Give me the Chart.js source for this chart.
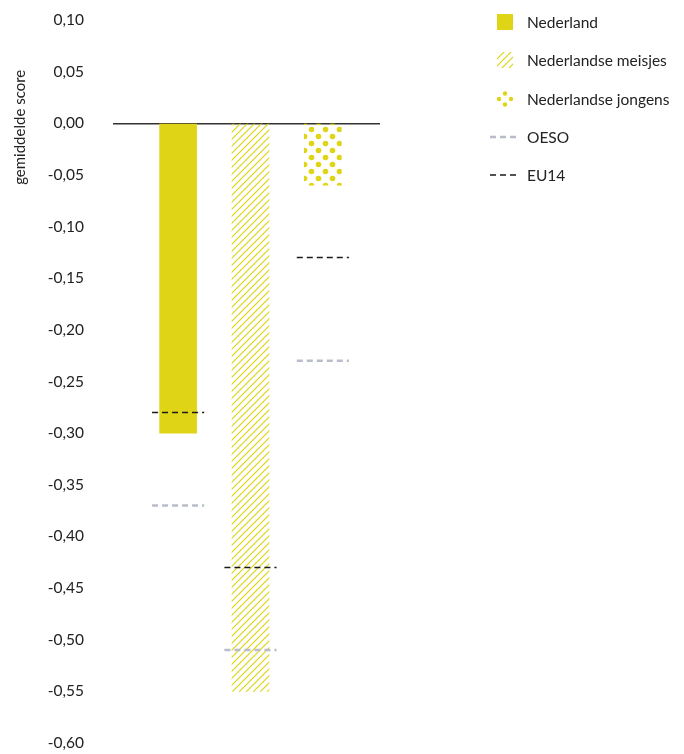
<!DOCTYPE html>
<html>
<head>
<meta charset="utf-8">
<script src="https://cdn.jsdelivr.net/npm/chart.js@4.4.1/dist/chart.umd.min.js"></script>
<style>
    body { margin: 0; background: #ffffff; font-family: Lato, "Noto Sans", sans-serif; }
    #wrap { position: relative; width: 684px; height: 754px; }
    #legend { position: absolute; left: 490px; top: 3px; }
    .item { display: flex; align-items: center; height: 38.3px; font-size: 15.5px; color: #222222; }
    .item canvas { margin-right: 11px; }
</style>
</head>
<body>
<div id="wrap">
    <canvas id="chart" width="684" height="754"></canvas>
    <div id="legend"></div>
</div>
<script>
const categories = ["Nederland", "Nederlandse meisjes", "Nederlandse jongens"];
const scores = [-0.30, -0.55, -0.06];
const oeso = [-0.37, -0.51, -0.23];
const eu14 = [-0.28, -0.43, -0.13];
const yTicks = { min: -0.60, max: 0.10, step: 0.05 };

const YELLOW = "#dfd415";
const GREY = "#b9bccb";
const BLACK = "#1a1a1a";

function stripePattern(color)
{
    const c = document.createElement("canvas");
    c.width = 7; c.height = 7;
    const g = c.getContext("2d");
    g.strokeStyle = color;
    g.lineWidth = 1.2;
    g.beginPath();
    g.moveTo(0, 7); g.lineTo(7, 0);
    g.moveTo(-1, 1); g.lineTo(1, -1);
    g.moveTo(6, 8); g.lineTo(8, 6);
    g.stroke();
    return g.createPattern(c, "repeat");
}

function dotPattern(color)
{
    const c = document.createElement("canvas");
    c.width = 14; c.height = 14;
    const g = c.getContext("2d");
    g.fillStyle = color;
    [[3.5, 3.5], [10.5, 10.5]].forEach(p => {
        g.beginPath();
        g.arc(p[0], p[1], 2.8, 0, Math.PI * 2);
        g.fill();
    });
    return g.createPattern(c, "repeat");
}

const fills = [YELLOW, stripePattern(YELLOW), dotPattern(YELLOW)];

// short horizontal segment over every bar, broken by a null point
const HALF = 0.36;
function segments(values)
{
    const pts = [];
    values.forEach((v, i) => {
        pts.push({ x: i + 1 - HALF, y: v }, { x: i + 1 + HALF, y: v }, { x: i + 1.5, y: null });
    });
    return pts;
}

const axisTitle = {
    id: "axisTitle",
    afterDraw(chart) {
        const y = chart.scales.y;
        const ctx = chart.ctx;
        ctx.save();
        ctx.translate(20, y.getPixelForValue(0) + 4);
        ctx.rotate(-Math.PI / 2);
        ctx.fillStyle = "#222222";
        ctx.font = "15px Lato, 'Noto Sans', sans-serif";
        ctx.textAlign = "center";
        ctx.textBaseline = "middle";
        ctx.fillText("gemiddelde score", 0, 0);
        ctx.restore();
    }
};

const chart = new Chart(document.getElementById("chart"), {
    data: {
        datasets: [
            {
                type: "line",
                label: "EU14",
                data: segments(eu14),
                borderColor: BLACK,
                borderWidth: 1.5,
                borderDash: [6, 4],
                pointRadius: 0,
                spanGaps: false,
                order: 0
            },
            {
                type: "line",
                label: "OESO",
                data: segments(oeso),
                borderColor: GREY,
                borderWidth: 2.5,
                borderDash: [6, 4],
                pointRadius: 0,
                spanGaps: false,
                order: 1
            },
            {
                type: "bar",
                label: "scores",
                data: scores.map((v, i) => ({ x: i + 1, y: v })),
                backgroundColor: fills,
                barThickness: 37,
                order: 2
            }
        ]
    },
    options: {
        responsive: false,
        animation: false,
        layout: { padding: { top: 20, right: 304, bottom: 11, left: 0 } },
        plugins: {
            legend: { display: false },
            tooltip: { enabled: false }
        },
        scales: {
            x: {
                type: "linear",
                display: false,
                offset: false,
                min: 0.1,
                max: 3.79
            },
            y: {
                min: yTicks.min,
                max: yTicks.max,
                border: { display: false },
                grid: {
                    drawTicks: true,
                    tickLength: 29,
                    tickColor: "transparent",
                    color: c => Math.abs(c.tick.value) < 1e-9 ? "#333333" : "transparent",
                    lineWidth: 1.5
                },
                ticks: {
                    stepSize: yTicks.step,
                    padding: 0,
                    color: "#222222",
                    font: { family: "Lato, 'Noto Sans', sans-serif", size: 15.5 },
                    callback: v => (Math.abs(v) < 1e-9 ? 0 : v).toFixed(2).replace(".", ",")
                },
                afterFit: s => { s.width = 113; }
            }
        }
    },
    plugins: [axisTitle]
});

// html legend with swatches drawn like the marks
const legend = document.getElementById("legend");
function addItem(label, draw)
{
    const row = document.createElement("div");
    row.className = "item";
    const sw = document.createElement("canvas");
    sw.width = 26; sw.height = 16;
    draw(sw.getContext("2d"));
    row.appendChild(sw);
    row.appendChild(document.createTextNode(label));
    legend.appendChild(row);
}

addItem(categories[0], g => {
    g.fillStyle = YELLOW;
    g.fillRect(7, 0, 16, 16);
});
addItem(categories[1], g => {
    g.fillStyle = stripePattern(YELLOW);
    g.fillRect(7, 0, 16, 16);
});
addItem(categories[2], g => {
    g.fillStyle = YELLOW;
    [[15, 2.5], [9, 8], [21, 8], [15, 13.5]].forEach(p => {
        g.beginPath();
        g.arc(p[0], p[1], 2.2, 0, Math.PI * 2);
        g.fill();
    });
});
[["OESO", GREY, 2.5], ["EU14", BLACK, 1.5]].forEach(s => {
    addItem(s[0], g => {
        g.strokeStyle = s[1];
        g.lineWidth = s[2];
        g.setLineDash([6, 4]);
        g.beginPath();
        g.moveTo(0, 8); g.lineTo(26, 8);
        g.stroke();
    });
});
</script>
</body>
</html>
